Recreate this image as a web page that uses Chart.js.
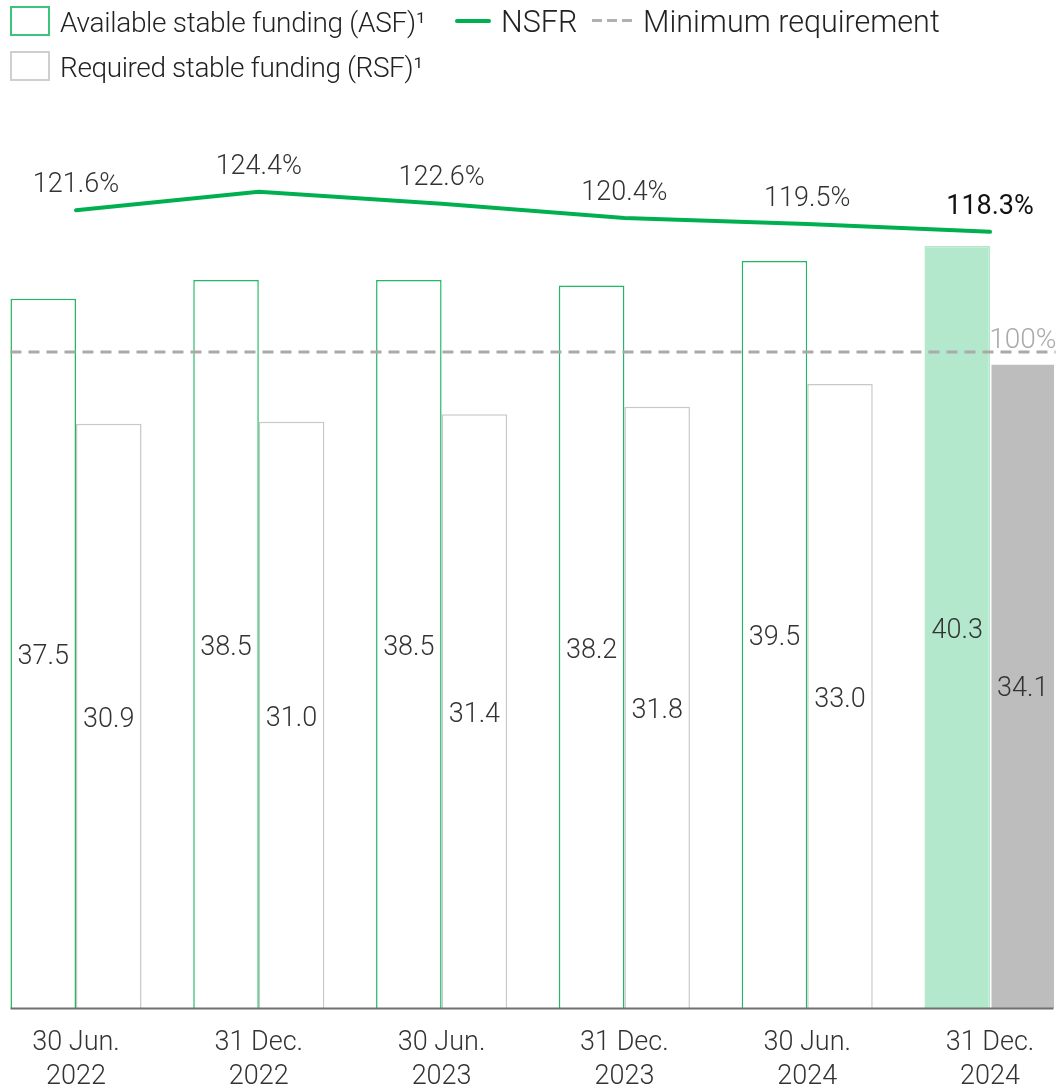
<!DOCTYPE html>
<html lang="en">
<head>
  <meta charset="UTF-8">
  <title>NSFR</title>
  <style>
    body { margin: 0; background: #fff; font-family: Roboto, sans-serif; }
    .wrap { position: relative; width: 1059px; height: 1087px; }
    canvas { position: absolute; left: 0; top: 0; }
    .lg { position: absolute; font-size: 28px; font-weight: 300; color: #222; line-height: 40px; white-space: nowrap; }
    .lg.largo { font-size: 30.5px; }
    .box { position: absolute; box-sizing: border-box; width: 40px; height: 30px; }
    .asf-box { left: 10px; top: 6px; border: 2px solid #3cc47c; }
    .rsf-box { left: 10px; top: 51px; border: 2px solid #cfcfcf; }
    .nsfr-line { position: absolute; left: 455px; top: 19px; width: 36px; height: 4px; border-radius: 2px; background: #00b050; }
    .min-line { position: absolute; left: 592px; top: 19px; width: 40px; height: 3px;
      background: repeating-linear-gradient(to right, #b0b0b0 0 10px, transparent 10px 15px); }
  </style>
</head>
<body>
  <div class="wrap">
    <canvas id="nsfrChart" width="1059" height="1087"></canvas>
    <div class="box asf-box"></div>
    <span class="lg" style="left:60px; top:3px; letter-spacing:-0.3px;">Available stable funding (ASF)¹</span>
    <div class="nsfr-line"></div>
    <span class="lg largo" style="left:501px; top:2px;">NSFR</span>
    <div class="min-line"></div>
    <span class="lg largo" style="left:643px; top:2px;">Minimum requirement</span>
    <div class="box rsf-box"></div>
    <span class="lg" style="left:60px; top:48px; letter-spacing:-0.4px;">Required stable funding (RSF)¹</span>
  </div>

<script src="https://cdn.jsdelivr.net/npm/chart.js"></script>
<script>
  // dados
  const categorias = [['30 Jun.', '2022'], ['31 Dec.', '2022'], ['30 Jun.', '2023'],
                      ['31 Dec.', '2023'], ['30 Jun.', '2024'], ['31 Dec.', '2024']];
  const asfValores = [37.5, 38.5, 38.5, 38.2, 39.5, 40.3];
  const rsfValores = [30.9, 31.0, 31.4, 31.8, 33.0, 34.1];
  const nsfrValores = [121.6, 124.4, 122.6, 120.4, 119.5, 118.3];
  const minimo = 100;
  const minimoLabel = '100%';

  const ultimo = categorias.length - 1;
  const fonte = 'Roboto';

  // baseline, linha de 100% e rótulos
  const overlay = {
    id: 'overlay',
    afterDatasetsDraw(chart) {
      const ctx = chart.ctx;
      const linha = chart.getDatasetMeta(0);
      const asf = chart.getDatasetMeta(1);
      const rsf = chart.getDatasetMeta(2);
      const yLinha = chart.scales.yLine;

      const b0 = asf.data[0].getProps(['x', 'width', 'base'], true);
      const bN = rsf.data[ultimo].getProps(['x', 'width'], true);
      const esq = b0.x - b0.width / 2;
      const dir = bN.x + bN.width / 2;

      ctx.save();
      // eixo
      ctx.strokeStyle = '#707070';
      ctx.lineWidth = 2;
      ctx.beginPath();
      ctx.moveTo(esq, b0.base + 0.5);
      ctx.lineTo(dir - 2, b0.base + 0.5);
      ctx.stroke();

      // requisito mínimo
      const yMin = yLinha.getPixelForValue(minimo);
      ctx.strokeStyle = '#aaaaaa';
      ctx.lineWidth = 3;
      ctx.setLineDash([11, 7]);
      ctx.beginPath();
      ctx.moveTo(esq, yMin);
      ctx.lineTo(dir, yMin);
      ctx.stroke();
      ctx.setLineDash([]);

      ctx.textAlign = 'right';
      ctx.textBaseline = 'middle';
      ctx.fillStyle = '#aaaaaa';
      ctx.font = '300 28px ' + fonte;
      ctx.fillText(minimoLabel, dir + 1, yMin - 11);

      // valores das barras
      ctx.textAlign = 'center';
      ctx.fillStyle = '#333';
      ctx.font = '300 27px ' + fonte;
      [asf, rsf].forEach(function (meta, d) {
        const valores = d === 0 ? asfValores : rsfValores;
        meta.data.forEach(function (bar, i) {
          const p = bar.getProps(['x', 'y', 'base'], true);
          ctx.fillText(valores[i].toFixed(1), p.x, (p.y + p.base) / 2 + 4);
        });
      });

      // NSFR
      linha.data.forEach(function (pt, i) {
        if (i === ultimo) {
          ctx.font = '400 27px ' + fonte;
          ctx.fillStyle = '#111';
        } else {
          ctx.font = '300 27px ' + fonte;
          ctx.fillStyle = '#333';
        }
        ctx.fillText(nsfrValores[i].toFixed(1) + '%', pt.x, pt.y - 25);
      });
      ctx.restore();
    }
  };

  const ctx = document.getElementById('nsfrChart').getContext('2d');
  new Chart(ctx, {
    data: {
      labels: categorias,
      datasets: [
        {
          type: 'line',
          label: 'NSFR',
          data: nsfrValores,
          yAxisID: 'yLine',
          borderColor: '#00b050',
          borderWidth: 4,
          borderCapStyle: 'round',
          pointRadius: 0,
          tension: 0,
          clip: false,
          order: 0
        },
        {
          type: 'bar',
          label: 'Available stable funding (ASF)',
          data: asfValores,
          yAxisID: 'y',
          backgroundColor: asfValores.map((v, i) => i === ultimo ? '#b3e8cc' : '#ffffff'),
          borderColor: asfValores.map((v, i) => i === ultimo ? '#b3e8cc' : '#20b864'),
          borderWidth: 1.5,
          barPercentage: 1,
          categoryPercentage: 0.717,
          clip: false,
          order: 1
        },
        {
          type: 'bar',
          label: 'Required stable funding (RSF)',
          data: rsfValores,
          yAxisID: 'y',
          backgroundColor: rsfValores.map((v, i) => i === ultimo ? '#bdbdbd' : '#ffffff'),
          borderColor: rsfValores.map((v, i) => i === ultimo ? '#ffffff' : '#c8c8c8'),
          borderWidth: 1.5,
          barPercentage: 1,
          categoryPercentage: 0.717,
          clip: false,
          order: 2
        }
      ]
    },
    options: {
      responsive: false,
      animation: false,
      layout: { padding: { top: 140, left: 76, right: 69, bottom: 0 } },
      plugins: {
        legend: { display: false },
        tooltip: { enabled: false }
      },
      scales: {
        x: {
          offset: false,
          grid: { display: false, drawTicks: false },
          border: { display: false },
          ticks: {
            color: '#333',
            padding: 18,
            maxRotation: 0,
            autoSkip: false,
            font: { family: fonte, size: 27, weight: 300, lineHeight: 1.26 }
          },
          afterFit(scale) { scale.height = 79; }
        },
        y: { display: false, min: 0, max: 45.9 },
        yLine: { display: false, position: 'right', min: 0, max: 132.3 }
      }
    },
    plugins: [overlay]
  });
</script>
</body>
</html>
